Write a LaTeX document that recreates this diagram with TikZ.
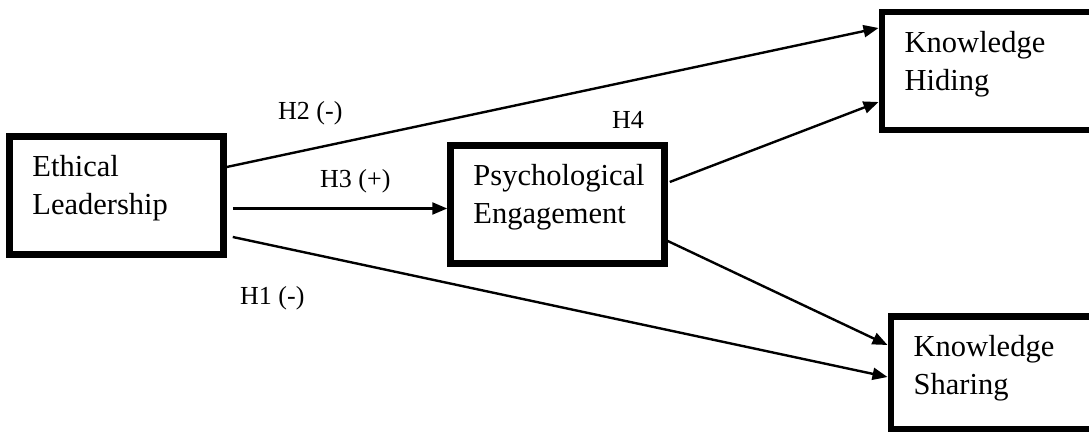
\documentclass[tikz,border=0pt]{standalone}
\usepackage{fontspec}
\setmainfont{Liberation Serif}
\usepackage{tikz}
\usetikzlibrary{arrows.meta, positioning}
\tikzstyle{varbox} = [rectangle, draw=black, line width=6.5pt, minimum width=214pt, minimum height=118pt]
\tikzstyle{boxtext} = [anchor=north west, xshift=26pt, yshift=-22pt, inner sep=0pt, align=left, font=\fontsize{30.5}{38}\selectfont]
\tikzstyle{hyp} = [anchor=base west, inner sep=0pt, font=\fontsize{26}{30}\selectfont]

\begin{document}
\begin{tikzpicture}[x=1pt, y=1pt, node distance=440pt]
\useasboundingbox (0,0) rectangle (1089,434);
\node (ethical) [varbox, label={[boxtext]north west:Ethical\\Leadership}] at (116.5,238.5) {};
\node (psych) [varbox, right of=ethical, xshift=1pt, yshift=-9pt, label={[boxtext]north west:Psychological\\Engagement}] {};
\node (hiding) [varbox, right of=psych, xshift=-8.75pt, yshift=133.5pt, label={[boxtext]north west:Knowledge\\Hiding}] {};
\node (sharing) [varbox, right of=psych, xshift=0.25pt, yshift=-168pt, minimum height=112.5pt, label={[boxtext]north west:Knowledge\\Sharing}] {};

\node (h2) [hyp] at (278,314) {H2 (-)};
\node (h3) [hyp] at (320,246) {H3 (+)};
\node (h4) [hyp] at (612,305) {H4};
\node (h1) [hyp] at (240,129) {H1 (-)};

\draw[-{Triangle[length=15pt, width=12pt]}, line width=2.4pt] ([yshift=28.5pt]ethical.east) -- ([yshift=43pt]hiding.west);
\draw[-{Triangle[length=15pt, width=12pt]}, line width=2.4pt] ([xshift=6pt, yshift=-13pt]ethical.east) -- ([yshift=-4pt]psych.west);
\draw[-{Triangle[length=15pt, width=12pt]}, line width=2.4pt] ([xshift=6pt, yshift=-41.5pt]ethical.east) -- ([yshift=-4.5pt]sharing.west);
\draw[-{Triangle[length=15pt, width=12pt]}, line width=2.4pt] ([xshift=2pt, yshift=22.5pt]psych.east) -- ([yshift=-31pt]hiding.west);
\draw[-{Triangle[length=15pt, width=12pt]}, line width=2.4pt] ([yshift=-36.5pt]psych.east) -- ([yshift=27.5pt]sharing.west);

\end{tikzpicture}
\end{document}
